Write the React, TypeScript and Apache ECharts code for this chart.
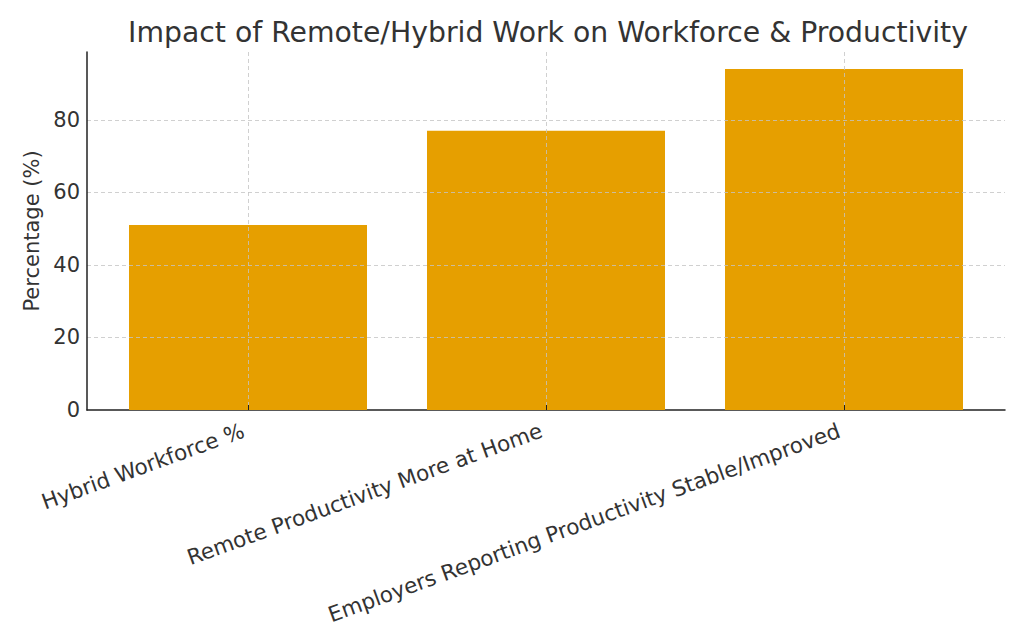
import React, { useEffect, useRef } from "react";
import * as echarts from "echarts";

const categories = [
  "Hybrid Workforce %",
  "Remote Productivity More at Home",
  "Employers Reporting Productivity Stable/Improved",
];
const values = [51, 77, 94];
const yMax = 98.7;
const yInterval = 20;
const titleText = "Impact of Remote/Hybrid Work on Workforce & Productivity";
const yName = "Percentage (%)";

const FONT = "DejaVu Sans";
const TXT = "#333333";

export default function App() {
  const ref = useRef<HTMLDivElement>(null);
  useEffect(() => {
    const chart = echarts.init(ref.current!, null, { renderer: "svg" });
    chart.setOption({
      animation: false,
      backgroundColor: "#ffffff",
      textStyle: { fontFamily: FONT },
      title: {
        text: titleText,
        left: 543,
        textAlign: "center",
        top: 13,
        textStyle: { fontFamily: FONT, fontSize: 28.3, fontWeight: "normal", color: TXT },
      },
      grid: [
        { left: 87, right: 19, top: 52, bottom: 230 },
        { left: 248, right: 180, top: 52, bottom: 230 },
      ],
      xAxis: [
        {
          type: "value",
          gridIndex: 0,
          min: 0,
          max: 1,
          axisLine: { show: true, onZero: false, lineStyle: { color: "#222", width: 1.5 } },
          axisTick: { show: false },
          axisLabel: { show: false },
          splitLine: { show: false },
        },
        {
          type: "category",
          gridIndex: 1,
          data: categories,
          boundaryGap: false,
          z: 5,
          axisLine: { show: false },
          axisTick: { show: true, inside: true, length: 5, lineStyle: { color: "#222" } },
          axisLabel: {
            rotate: 20,
            fontFamily: FONT,
            fontSize: 21.5,
            color: TXT,
            margin: 18,
            padding: [0, 5, 0, 0],
            interval: 0,
          },
          splitLine: { show: true, lineStyle: { color: "#c4c4c4", type: [4, 3], width: 0.8 } },
        },
      ],
      yAxis: [
        {
          type: "value",
          gridIndex: 0,
          min: 0,
          max: yMax,
          interval: yInterval,
          z: 5,
          name: yName,
          nameLocation: "middle",
          nameGap: 44,
          nameTextStyle: { fontFamily: FONT, fontSize: 21, color: TXT },
          axisLine: { show: true, lineStyle: { color: "#222", width: 1.5 } },
          axisTick: { show: false },
          axisLabel: {
            fontFamily: FONT,
            fontSize: 21,
            color: TXT,
            margin: 7,
            showMaxLabel: false,
            formatter: (v: number) => (v % yInterval === 0 ? String(v) : ""),
          },
          splitLine: {
            show: true,
            showMinLine: false,
            showMaxLine: false,
            lineStyle: { color: "#c4c4c4", type: [4, 3], width: 0.8 },
          },
        },
        {
          type: "value",
          gridIndex: 1,
          min: 0,
          max: yMax,
          show: false,
          splitLine: { show: false },
        },
      ],
      series: [
        {
          type: "bar",
          xAxisIndex: 1,
          yAxisIndex: 1,
          data: values,
          barWidth: 238,
          clip: false,
          itemStyle: { color: "#E69F00" },
        },
      ],
    });
    return () => chart.dispose();
  }, []);
  return (
    <div
      ref={ref}
      style={{ position: "fixed", left: 0, top: 0, width: 1024, height: 640 }}
    />
  );
}
